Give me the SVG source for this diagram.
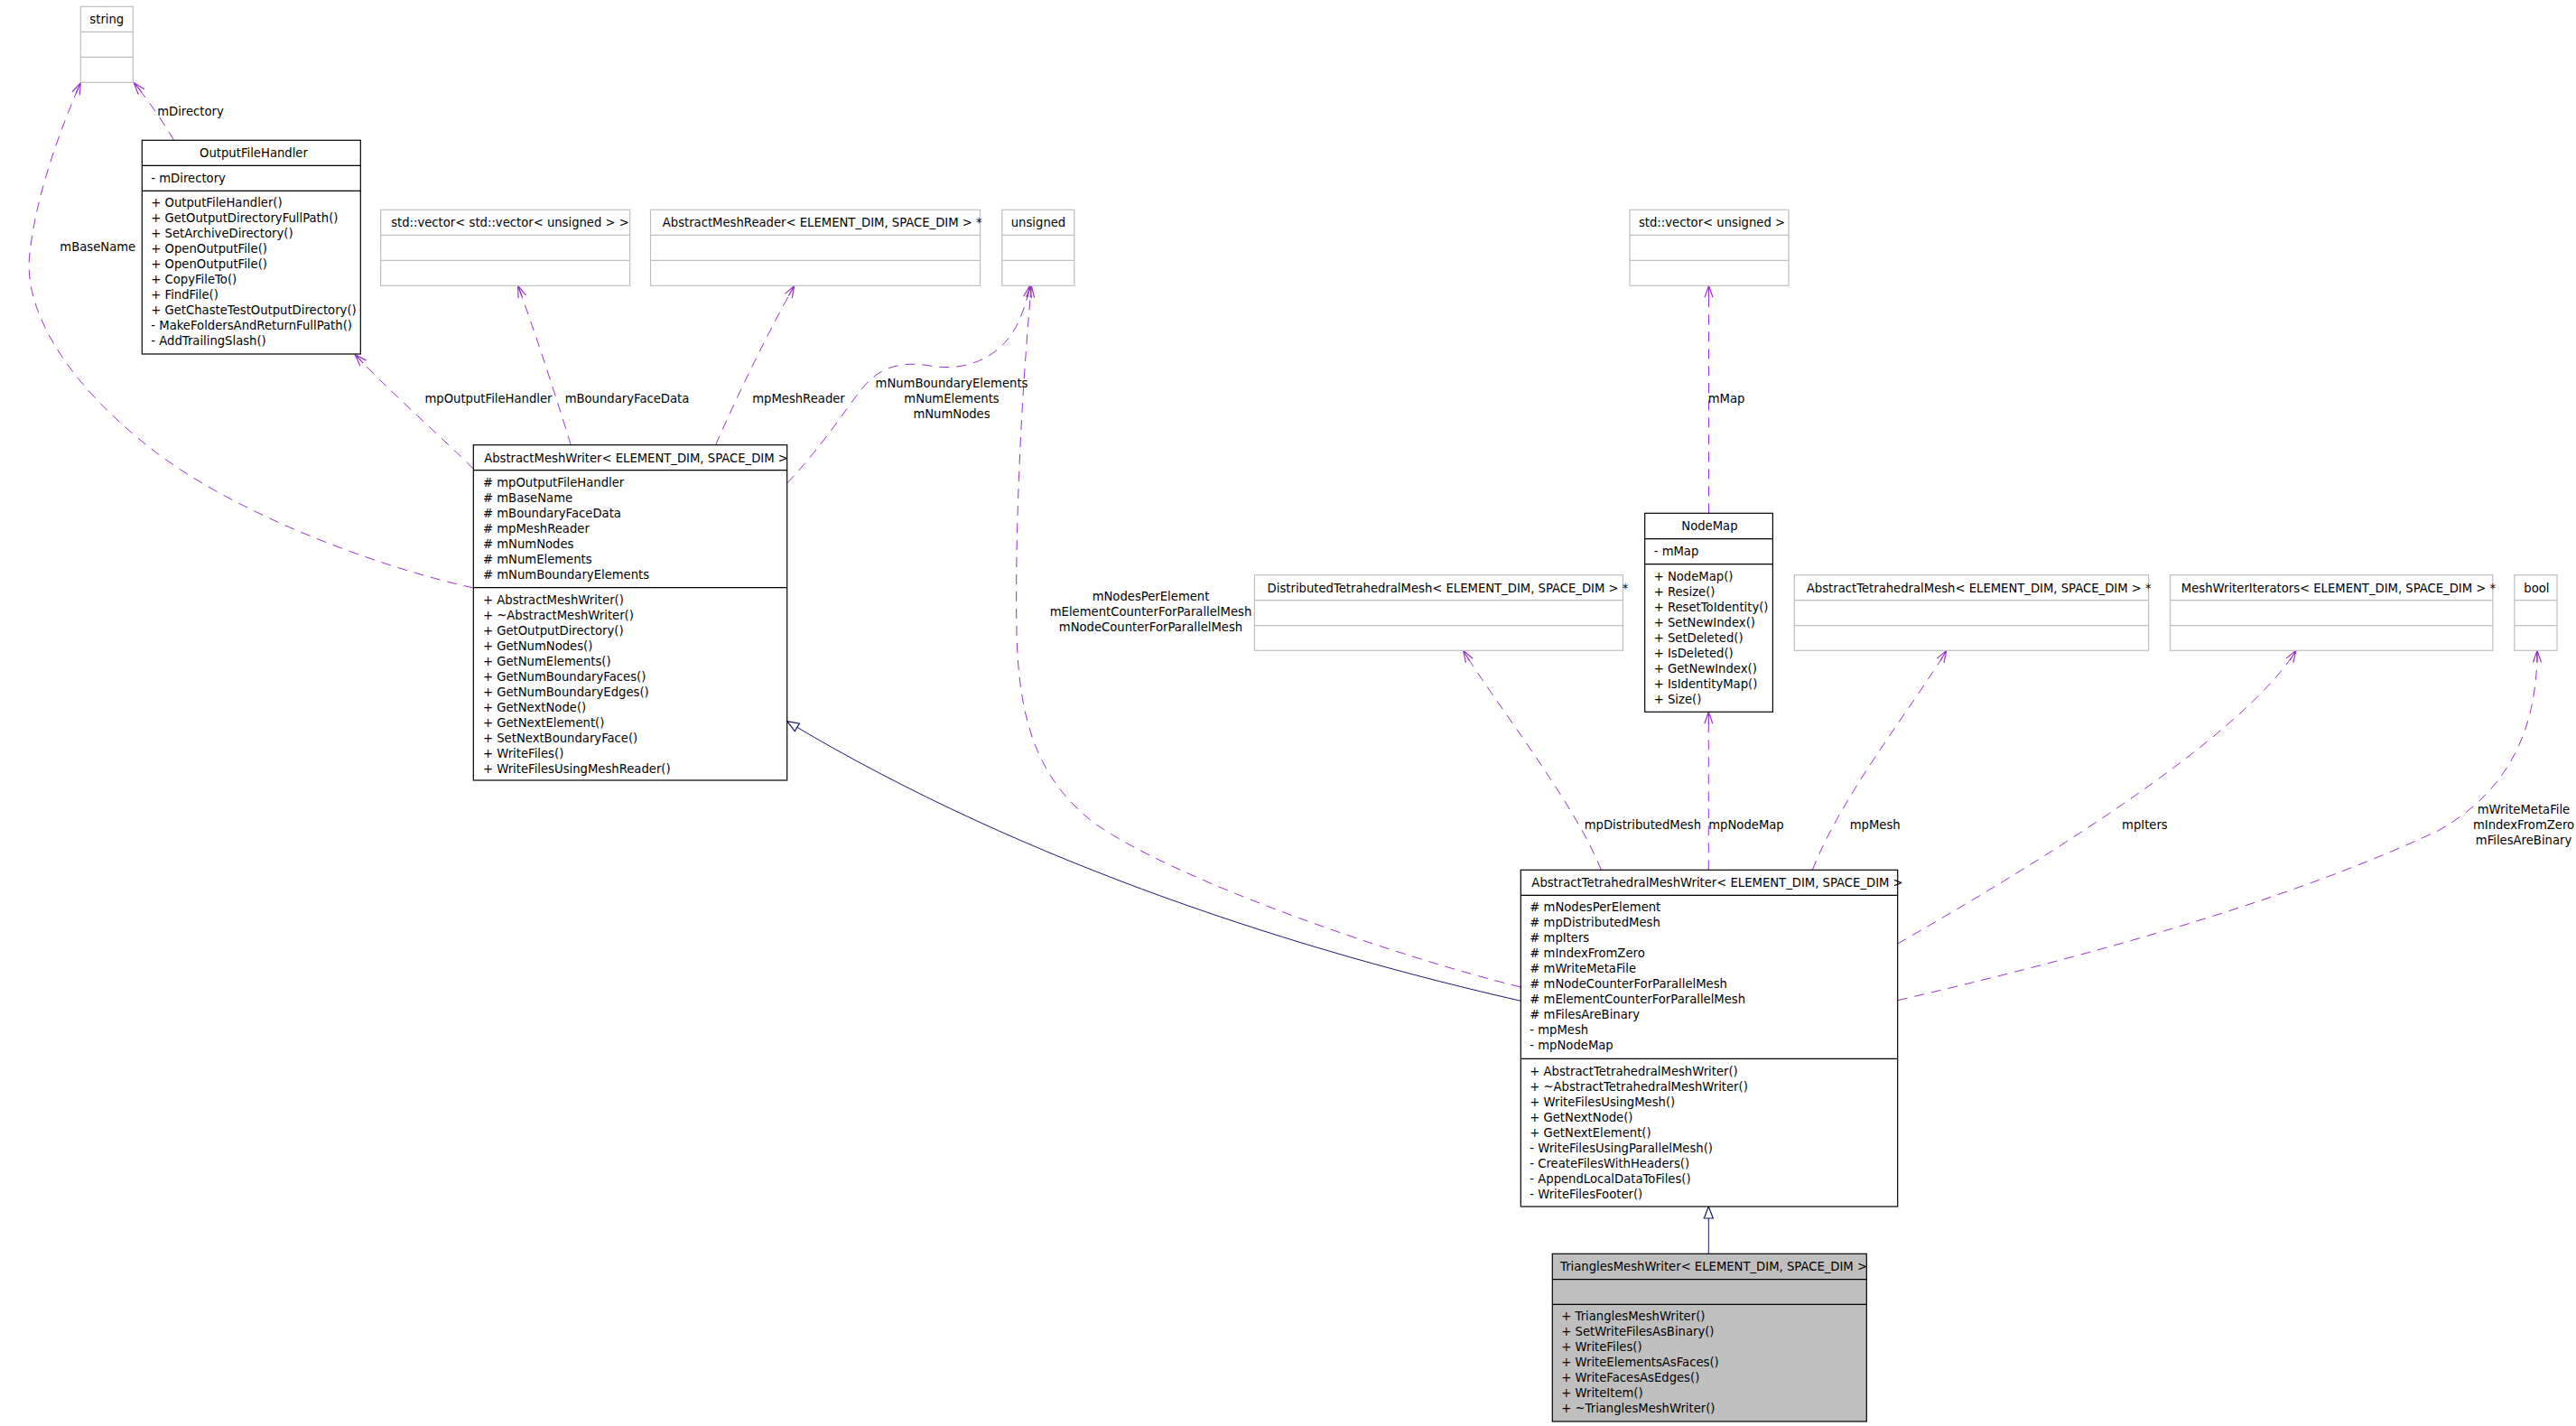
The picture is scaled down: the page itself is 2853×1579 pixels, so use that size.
<svg xmlns="http://www.w3.org/2000/svg" width="2853" height="1579" viewBox="0 0 2853 1579">
<style>
text{font-family:"DejaVu Sans","Liberation Sans",sans-serif;font-size:13.2px;fill:#000}
.c{text-anchor:middle}
.box{fill:#fff;stroke:#000;stroke-width:1.2}
.gbox{fill:#fff;stroke:#bfbfbf;stroke-width:1.2}
.sel{fill:#bfbfbf;stroke:#000;stroke-width:1.2}
.ln{stroke:#000;stroke-width:1.2}
.gln{stroke:#bfbfbf;stroke-width:1.2}
.dep{fill:none;stroke:#9a32cd;stroke-width:1;stroke-dasharray:11,8;marker-end:url(#open)}
.inh{fill:none;stroke:#191970;stroke-width:1;marker-end:url(#tri)}
</style>
<defs>
<marker id="open" markerUnits="userSpaceOnUse" markerWidth="30" markerHeight="30" refX="14" refY="15" orient="auto" overflow="visible">
<path d="M1,10.5 L14,15 L1,19.5 M1,15 L14,15" fill="none" stroke="#9a32cd" stroke-width="1.2"/>
</marker>
<marker id="tri" markerUnits="userSpaceOnUse" markerWidth="30" markerHeight="30" refX="14" refY="15" orient="auto" overflow="visible">
<path d="M1,10 L14,15 L1,20 Z" fill="#fff" stroke="#191970" stroke-width="1.2"/>
</marker>
</defs>
<rect width="2853" height="1579" fill="#fff"/>

<g id="connectors">
<path class="dep" d="M192.7,155.3 C180,134 162,108 148.3,91.7"/>
<path class="dep" d="M524.3,651 C420,628 260,570 165,495 C70,420 25,340 33,280 C40,215 68,140 89.3,91.7"/>
<path class="dep" d="M524.3,519 C490,485 430,432 393.3,392.7"/>
<path class="dep" d="M632.3,492.7 C616,440 590,360 573.6,316.3"/>
<path class="dep" d="M792.6,492.7 C820,430 855,360 879.8,316.3"/>
<path class="dep" d="M871.7,535 C910,495 935,455 955,430 C975,405 1000,400 1030,405 C1060,410 1085,403 1105,387 C1125,370 1135,345 1140.5,316.3"/>
<path class="dep" d="M1684.3,1093 C1550,1060 1300,975 1210,910 C1150,862 1128,800 1126,700 C1124,600 1130,450 1142.3,316.3"/>
<path class="dep" d="M1892.5,568.3 L1892.5,316.3"/>
<path class="dep" d="M1773.3,963.3 C1745,890 1650,770 1620.7,720.3"/>
<path class="dep" d="M1892.3,963.3 L1892.3,788.3"/>
<path class="dep" d="M2007.3,963.3 C2040,880 2120,780 2155.8,720.3"/>
<path class="dep" d="M2101.7,1045 C2250,960 2480,820 2543,720.3"/>
<path class="dep" d="M2101.7,1107.7 C2350,1050 2550,990 2700,920 C2790,870 2810,790 2810,720.3"/>
<path class="inh" d="M1684.3,1108.3 C1450,1055 1140,960 871.7,798.7"/>
<path class="inh" d="M1892.3,1388.3 L1892.3,1336"/>
<text class="c" x="211" y="127.7">mDirectory</text>
<text class="c" x="108.3" y="277.7">mBaseName</text>
<text class="c" x="541" y="446">mpOutputFileHandler</text>
<text class="c" x="694.5" y="446">mBoundaryFaceData</text>
<text class="c" x="884.5" y="446">mpMeshReader</text>
<text class="c" x="1054" y="428.5">mNumBoundaryElements</text>
<text class="c" x="1054" y="445.5">mNumElements</text>
<text class="c" x="1054" y="462.5">mNumNodes</text>
<text class="c" x="1912" y="445.5">mMap</text>
<text class="c" x="1274.5" y="664.5">mNodesPerElement</text>
<text class="c" x="1274.5" y="681.5">mElementCounterForParallelMesh</text>
<text class="c" x="1274.5" y="698.5">mNodeCounterForParallelMesh</text>
<text class="c" x="1819.4" y="917.7">mpDistributedMesh</text>
<text class="c" x="1934" y="917.7">mpNodeMap</text>
<text class="c" x="2076.7" y="917.7">mpMesh</text>
<text class="c" x="2375.4" y="917.7">mpIters</text>
<text class="c" x="2795" y="900.7">mWriteMetaFile</text>
<text class="c" x="2795" y="917.7">mIndexFromZero</text>
<text class="c" x="2795" y="934.7">mFilesAreBinary</text>
</g>

<g id="string">
<rect class="gbox" x="89.3" y="7.3" width="58" height="84"/>
<line class="gln" x1="89.3" y1="35.3" x2="147.3" y2="35.3"/>
<line class="gln" x1="89.3" y1="63.3" x2="147.3" y2="63.3"/>
<text class="c" x="118.3" y="26">string</text>
</g>

<g id="OutputFileHandler">
<rect class="box" x="157.3" y="155.3" width="242" height="236.7"/>
<line class="ln" x1="157.3" y1="183.3" x2="399.3" y2="183.3"/>
<line class="ln" x1="157.3" y1="211.3" x2="399.3" y2="211.3"/>
<text class="c" x="281" y="174">OutputFileHandler</text>
<text x="167.3" y="202">- mDirectory</text>
<text x="167.3" y="229.3">+ OutputFileHandler()</text>
<text x="167.3" y="246.3">+ GetOutputDirectoryFullPath()</text>
<text x="167.3" y="263.3">+ SetArchiveDirectory()</text>
<text x="167.3" y="280.3">+ OpenOutputFile()</text>
<text x="167.3" y="297.3">+ OpenOutputFile()</text>
<text x="167.3" y="314.3">+ CopyFileTo()</text>
<text x="167.3" y="331.3">+ FindFile()</text>
<text x="167.3" y="348.3">+ GetChasteTestOutputDirectory()</text>
<text x="167.3" y="365.3">- MakeFoldersAndReturnFullPath()</text>
<text x="167.3" y="382.3">- AddTrailingSlash()</text>
</g>

<g id="VectorVectorUnsigned">
<rect class="gbox" x="421.6" y="232.3" width="276" height="84"/>
<line class="gln" x1="421.6" y1="260.3" x2="697.6" y2="260.3"/>
<line class="gln" x1="421.6" y1="288.3" x2="697.6" y2="288.3"/>
<text class="c" x="565" y="251">std::vector&lt; std::vector&lt; unsigned &gt; &gt;</text>
</g>

<g id="AbstractMeshReader">
<rect class="gbox" x="720.5" y="232.3" width="365" height="84"/>
<line class="gln" x1="720.5" y1="260.3" x2="1085.5" y2="260.3"/>
<line class="gln" x1="720.5" y1="288.3" x2="1085.5" y2="288.3"/>
<text class="c" x="910.7" y="251">AbstractMeshReader&lt; ELEMENT_DIM, SPACE_DIM &gt; *</text>
</g>

<g id="unsigned">
<rect class="gbox" x="1109.8" y="232.3" width="80" height="84"/>
<line class="gln" x1="1109.8" y1="260.3" x2="1189.8" y2="260.3"/>
<line class="gln" x1="1109.8" y1="288.3" x2="1189.8" y2="288.3"/>
<text class="c" x="1150" y="251">unsigned</text>
</g>

<g id="VectorUnsigned">
<rect class="gbox" x="1805" y="232.3" width="176" height="84"/>
<line class="gln" x1="1805" y1="260.3" x2="1981" y2="260.3"/>
<line class="gln" x1="1805" y1="288.3" x2="1981" y2="288.3"/>
<text class="c" x="1896" y="251">std::vector&lt; unsigned &gt;</text>
</g>

<g id="AbstractMeshWriter">
<rect class="box" x="524.3" y="492.7" width="347.4" height="371.3"/>
<line class="ln" x1="524.3" y1="520.7" x2="871.7" y2="520.7"/>
<line class="ln" x1="524.3" y1="650.7" x2="871.7" y2="650.7"/>
<text class="c" x="704.5" y="511.5">AbstractMeshWriter&lt; ELEMENT_DIM, SPACE_DIM &gt;</text>
<text x="535" y="538.7"># mpOutputFileHandler</text>
<text x="535" y="555.7"># mBaseName</text>
<text x="535" y="572.7"># mBoundaryFaceData</text>
<text x="535" y="589.7"># mpMeshReader</text>
<text x="535" y="606.7"># mNumNodes</text>
<text x="535" y="623.7"># mNumElements</text>
<text x="535" y="640.7"># mNumBoundaryElements</text>
<text x="535" y="668.7">+ AbstractMeshWriter()</text>
<text x="535" y="685.7">+ ~AbstractMeshWriter()</text>
<text x="535" y="702.7">+ GetOutputDirectory()</text>
<text x="535" y="719.7">+ GetNumNodes()</text>
<text x="535" y="736.7">+ GetNumElements()</text>
<text x="535" y="753.7">+ GetNumBoundaryFaces()</text>
<text x="535" y="770.7">+ GetNumBoundaryEdges()</text>
<text x="535" y="787.7">+ GetNextNode()</text>
<text x="535" y="804.7">+ GetNextElement()</text>
<text x="535" y="821.7">+ SetNextBoundaryFace()</text>
<text x="535" y="838.7">+ WriteFiles()</text>
<text x="535" y="855.7">+ WriteFilesUsingMeshReader()</text>
</g>

<g id="NodeMap">
<rect class="box" x="1821.7" y="568.3" width="141.7" height="220"/>
<line class="ln" x1="1821.7" y1="596.7" x2="1963.4" y2="596.7"/>
<line class="ln" x1="1821.7" y1="624.7" x2="1963.4" y2="624.7"/>
<text class="c" x="1893.4" y="587.3">NodeMap</text>
<text x="1831.7" y="614.7">- mMap</text>
<text x="1831.7" y="642.7">+ NodeMap()</text>
<text x="1831.7" y="659.7">+ Resize()</text>
<text x="1831.7" y="676.7">+ ResetToIdentity()</text>
<text x="1831.7" y="693.7">+ SetNewIndex()</text>
<text x="1831.7" y="710.7">+ SetDeleted()</text>
<text x="1831.7" y="727.7">+ IsDeleted()</text>
<text x="1831.7" y="744.7">+ GetNewIndex()</text>
<text x="1831.7" y="761.7">+ IsIdentityMap()</text>
<text x="1831.7" y="778.7">+ Size()</text>
</g>

<g id="DistributedTetrahedralMesh">
<rect class="gbox" x="1389.4" y="636.7" width="408" height="83.6"/>
<line class="gln" x1="1389.4" y1="664.7" x2="1797.4" y2="664.7"/>
<line class="gln" x1="1389.4" y1="692.7" x2="1797.4" y2="692.7"/>
<text class="c" x="1603.5" y="655.5">DistributedTetrahedralMesh&lt; ELEMENT_DIM, SPACE_DIM &gt; *</text>
</g>

<g id="AbstractTetrahedralMesh">
<rect class="gbox" x="1987.4" y="636.7" width="392.2" height="83.6"/>
<line class="gln" x1="1987.4" y1="664.7" x2="2379.6" y2="664.7"/>
<line class="gln" x1="1987.4" y1="692.7" x2="2379.6" y2="692.7"/>
<text class="c" x="2191.7" y="655.5">AbstractTetrahedralMesh&lt; ELEMENT_DIM, SPACE_DIM &gt; *</text>
</g>

<g id="MeshWriterIterators">
<rect class="gbox" x="2403.5" y="636.7" width="357.3" height="83.6"/>
<line class="gln" x1="2403.5" y1="664.7" x2="2760.8" y2="664.7"/>
<line class="gln" x1="2403.5" y1="692.7" x2="2760.8" y2="692.7"/>
<text class="c" x="2590" y="655.5">MeshWriterIterators&lt; ELEMENT_DIM, SPACE_DIM &gt; *</text>
</g>

<g id="bool">
<rect class="gbox" x="2784.8" y="636.7" width="47.2" height="83.6"/>
<line class="gln" x1="2784.8" y1="664.7" x2="2832" y2="664.7"/>
<line class="gln" x1="2784.8" y1="692.7" x2="2832" y2="692.7"/>
<text class="c" x="2809.4" y="655.5">bool</text>
</g>

<g id="AbstractTetrahedralMeshWriter">
<rect class="box" x="1684.3" y="963.3" width="417.4" height="372.7"/>
<line class="ln" x1="1684.3" y1="991.3" x2="2101.7" y2="991.3"/>
<line class="ln" x1="1684.3" y1="1172.3" x2="2101.7" y2="1172.3"/>
<text class="c" x="1902" y="982">AbstractTetrahedralMeshWriter&lt; ELEMENT_DIM, SPACE_DIM &gt;</text>
<text x="1694.3" y="1009.3"># mNodesPerElement</text>
<text x="1694.3" y="1026.3"># mpDistributedMesh</text>
<text x="1694.3" y="1043.3"># mpIters</text>
<text x="1694.3" y="1060.3"># mIndexFromZero</text>
<text x="1694.3" y="1077.3"># mWriteMetaFile</text>
<text x="1694.3" y="1094.3"># mNodeCounterForParallelMesh</text>
<text x="1694.3" y="1111.3"># mElementCounterForParallelMesh</text>
<text x="1694.3" y="1128.3"># mFilesAreBinary</text>
<text x="1694.3" y="1145.3">- mpMesh</text>
<text x="1694.3" y="1162.3">- mpNodeMap</text>
<text x="1694.3" y="1191.3">+ AbstractTetrahedralMeshWriter()</text>
<text x="1694.3" y="1208.3">+ ~AbstractTetrahedralMeshWriter()</text>
<text x="1694.3" y="1225.3">+ WriteFilesUsingMesh()</text>
<text x="1694.3" y="1242.3">+ GetNextNode()</text>
<text x="1694.3" y="1259.3">+ GetNextElement()</text>
<text x="1694.3" y="1276.3">- WriteFilesUsingParallelMesh()</text>
<text x="1694.3" y="1293.3">- CreateFilesWithHeaders()</text>
<text x="1694.3" y="1310.3">- AppendLocalDataToFiles()</text>
<text x="1694.3" y="1327.3">- WriteFilesFooter()</text>
</g>

<g id="TrianglesMeshWriter">
<rect class="sel" x="1719.3" y="1388.3" width="348" height="185.7"/>
<line class="ln" x1="1719.3" y1="1416.7" x2="2067.3" y2="1416.7"/>
<line class="ln" x1="1719.3" y1="1444.3" x2="2067.3" y2="1444.3"/>
<text class="c" x="1898" y="1407.3">TrianglesMeshWriter&lt; ELEMENT_DIM, SPACE_DIM &gt;</text>
<text x="1729.3" y="1461.7">+ TrianglesMeshWriter()</text>
<text x="1729.3" y="1478.7">+ SetWriteFilesAsBinary()</text>
<text x="1729.3" y="1495.7">+ WriteFiles()</text>
<text x="1729.3" y="1512.7">+ WriteElementsAsFaces()</text>
<text x="1729.3" y="1529.7">+ WriteFacesAsEdges()</text>
<text x="1729.3" y="1546.7">+ WriteItem()</text>
<text x="1729.3" y="1563.7">+ ~TrianglesMeshWriter()</text>
</g>
</svg>
